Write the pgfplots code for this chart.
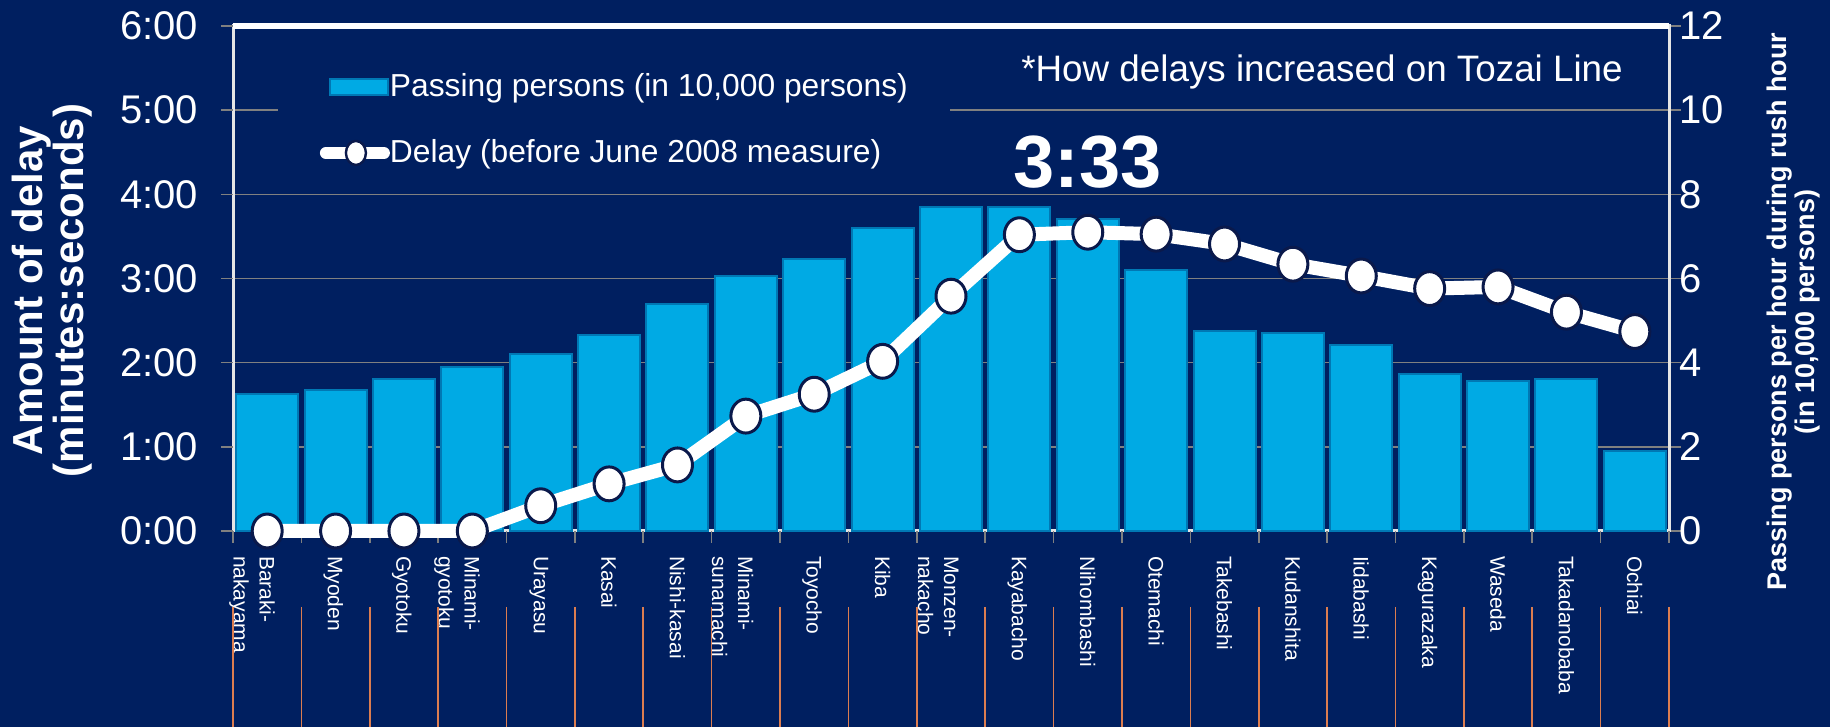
\documentclass[border=0pt]{standalone}
\usepackage{fontspec}
\setmainfont{Liberation Sans}
\usepackage{pgfplots}
\pgfplotsset{compat=1.18}

\definecolor{navybg}{RGB}{0,31,96}
\definecolor{barcyan}{RGB}{0,170,228}
\definecolor{baredge}{RGB}{0,120,180}
\definecolor{gridgray}{RGB}{128,128,128}
\definecolor{markedge}{RGB}{10,25,75}
\definecolor{orangeline}{RGB}{220,125,80}

\begin{document}
\begin{tikzpicture}
\useasboundingbox (-116.5pt,-98pt) rectangle (798.5pt,265.5pt);
\fill[navybg] (-116.5pt,-98pt) rectangle (798.5pt,265.5pt);

% passing persons (bars, right axis)
\begin{axis}[
    scale only axis,
    width=718pt, height=252.5pt,
    xmin=-0.5, xmax=20.5,
    ymin=0, ymax=12,
    clip=false,
    axis line style={draw=white!80!gray, line width=1.5pt},
    ytick={0,2,...,12},
    yticklabels={0,2,4,6,8,10,12},
    ytick pos=right, yticklabel pos=right,
    xtick={0,...,20},
    xtick pos=bottom,
    xticklabels={{Baraki-\\nakayama},Myoden,Gyotoku,{Minami-\\gyotoku},Urayasu,Kasai,Nishi-kasai,{Minami-\\sunamachi},Toyocho,Kiba,{Monzen-\\nakacho},Kayabacho,Nihombashi,Otemachi,Takebashi,Kudanshita,Iidabashi,Kagurazaka,Waseda,Takadanobaba,Ochiai},
    xtick style={draw=none},
    ytick style={draw=gridgray, line width=0.8pt},
    tick align=outside,
    major tick length=6pt,
    ymajorgrids,
    grid style={gridgray, line width=0.8pt},
    yticklabel style={font=\fontsize{20}{20}\selectfont, text=white, inner sep=0pt, xshift=-1pt},
    xticklabel style={font=\fontsize{10.5}{13}\selectfont, text=white, align=left,
        inner ysep=0pt, xshift=4pt, yshift=-3pt, rotate=-90, anchor=north west},
    ylabel={Passing persons per hour during rush hour\\(in 10,000 persons)},
    ylabel style={at={(axis description cs:1,0.434)}, yshift=-62.5pt, anchor=center,
        align=center, font=\bfseries\fontsize{13.5}{14}\selectfont, text=white},
]
\addplot[ybar, bar width=31pt, fill=barcyan, draw=baredge, line width=1pt] coordinates {
    (0,3.25) (1,3.34) (2,3.61) (3,3.89) (4,4.20) (5,4.65) (6,5.40)
    (7,6.07) (8,6.46) (9,7.21) (10,7.71) (11,7.70) (12,7.41) (13,6.21)
    (14,4.75) (15,4.71) (16,4.42) (17,3.72) (18,3.56) (19,3.62) (20,1.89)
};
\draw[white, line width=3pt] (rel axis cs:0,1) -- (rel axis cs:1,1);
\pgfplotsinvokeforeach{0,...,21}{
    \draw[orangeline, line width=0.8pt] (axis cs:{#1-0.5},0) ++(0pt,-38pt) -- ++(0pt,-62pt);
}
\end{axis}

% delay (line, left axis)
\begin{axis}[
    scale only axis,
    width=718pt, height=252.5pt,
    xmin=-0.5, xmax=20.5,
    ymin=0, ymax=6,
    clip=false,
    axis line style={draw=none},
    ytick={0,...,6},
    yticklabels={0:00,1:00,2:00,3:00,4:00,5:00,6:00},
    ytick pos=left,
    xtick={-0.5,0.5,...,20.5},
    xticklabels={},
    xtick pos=bottom,
    tick align=outside,
    major tick length=6pt,
    tick style={draw=gridgray, line width=0.8pt},
    yticklabel style={font=\fontsize{20}{20}\selectfont, text=white, xshift=-8pt},
    ylabel={Amount of delay\\(minutes:seconds)},
    ylabel style={at={(axis description cs:0,0.476)}, yshift=90.5pt, anchor=center,
        align=center, font=\bfseries\fontsize{21}{20.5}\selectfont, text=white},
    legend style={at={(axis description cs:0.031,0.814)}, anchor=west,
        fill=navybg, draw=none, inner xsep=21pt, inner ysep=8pt,
        row sep=16pt, font=\fontsize{15.9}{18}\selectfont, text=white,
        nodes={inner xsep=0pt}},
    legend cell align=left,
]
\addlegendimage{legend image code/.code={
    \fill[barcyan, draw=baredge, line width=0.8pt] (0pt,-4pt) rectangle (29pt,4pt);}}
\addlegendentry{Passing persons (in 10,000 persons)}

\addplot[white, line width=7pt, line join=round,
    mark=*, mark size=7.5pt,
    mark options={fill=white, draw=markedge, line width=1.5pt, yscale=1.13},
    legend image code/.code={
        \draw[white, line width=6pt, line cap=round] (-2pt,0pt) -- (27pt,0pt);
        \draw[fill=white, draw=markedge, line width=1.2pt] (13pt,0pt) ellipse (5pt and 6pt);}
] coordinates {
    (0,0) (1,0) (2,0) (3,0) (4,0.30) (5,0.56) (6,0.785)
    (7,1.365) (8,1.625) (9,2.016) (10,2.79) (11,3.52) (12,3.55) (13,3.527)
    (14,3.41) (15,3.17) (16,3.03) (17,2.88) (18,2.90) (19,2.60) (20,2.37)
};
\addlegendentry{Delay (before June 2008 measure)}

\node[font=\bfseries\fontsize{37}{37}\selectfont, text=white] at (axis cs:12,4.38) {3:33};
\node[font=\fontsize{18.4}{20}\selectfont, text=white, anchor=west, inner sep=0pt]
    at (axis description cs:0.5487,0.909) {*How delays increased on Tozai Line};
\end{axis}
\end{tikzpicture}
\end{document}
